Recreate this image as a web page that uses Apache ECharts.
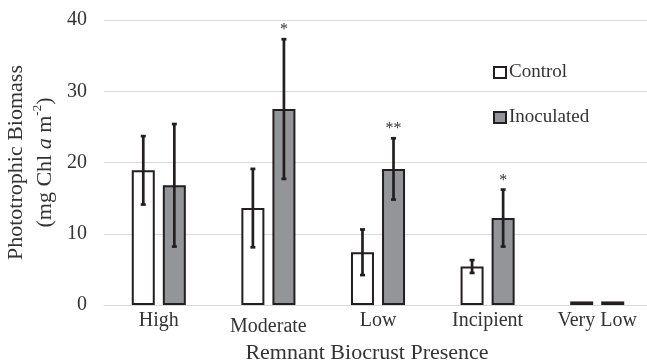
<!DOCTYPE html>
<html>
<head>
<meta charset="utf-8">
<script src="https://cdn.jsdelivr.net/npm/echarts@6/dist/echarts.min.js"></script>
<style>html,body{margin:0;padding:0;background:#fff}#c{width:647px;height:360px}</style>
</head>
<body>
<div id="c"></div>
<script>
const categories = ['High', 'Moderate', 'Low', 'Incipient', 'Very Low'];
const controlMean = [18.9, 13.6, 7.4, 5.4, 0.5];
const controlErr = [4.8, 5.5, 3.2, 0.9, 0];
const inocMean = [16.8, 27.5, 19.1, 12.2, 0.5];
const inocErr = [8.6, 9.8, 4.3, 4.0, 0];
const inocSig = ['', '*', '**', '*', ''];
const yTicks = [0, 10, 20, 30, 40];

const FONT = '"Liberation Serif", "Times New Roman", serif';
const INK = '#231f20';
const BAR_W = 23;
const GAP = 0.35;
const OFFSET = BAR_W * (1 + GAP) / 2;

function errSeries(mean, err, sig, dir) {
  return {
    type: 'custom',
    z: 5,
    silent: true,
    data: mean.map((m, i) => [i, m, err[i]]),
    encode: { x: 0, y: 1 },
    renderItem: function (params, api) {
      const idx = api.value(0);
      const m = api.value(1);
      const e = api.value(2);
      const s = sig[params.dataIndex];
      const x = api.coord([idx, 0])[0] + dir * OFFSET;
      const yT = api.coord([idx, m + e])[1];
      const yB = api.coord([idx, m - e])[1];
      const children = [];
      const st = { stroke: INK, lineWidth: 2.7 };
      if (e > 0) {
        children.push({ type: 'line', shape: { x1: x, y1: yT, x2: x, y2: yB }, style: st });
        children.push({ type: 'line', shape: { x1: x - 2.5, y1: yT, x2: x + 2.5, y2: yT }, style: st });
        children.push({ type: 'line', shape: { x1: x - 2.5, y1: yB, x2: x + 2.5, y2: yB }, style: st });
      }
      if (s) {
        children.push({ type: 'text', style: { text: s, x: x, y: yT - 1, align: 'center', verticalAlign: 'bottom', fill: '#333', font: '16px ' + FONT } });
      }
      return { type: 'group', children: children };
    }
  };
}

const chart = echarts.init(document.getElementById('c'), null, { renderer: 'canvas' });
chart.setOption({
  animation: false,
  backgroundColor: '#fff',
  textStyle: { fontFamily: FONT },
  grid: { left: 104, right: -5, top: 20, bottom: 55, containLabel: false, outerBoundsMode: 'none' },
  legend: {
    orient: 'vertical',
    left: 488,
    top: 58,
    itemGap: 26,
    itemWidth: 12,
    itemHeight: 11,
    icon: 'rect',
    textStyle: { fontFamily: FONT, fontSize: 19, color: '#333', padding: [0, 0, 0, -2] },
    data: [
      { name: 'Control', itemStyle: { color: '#fff', borderColor: INK, borderWidth: 2 } },
      { name: 'Inoculated', itemStyle: { color: '#939598', borderColor: INK, borderWidth: 2 } }
    ]
  },
  xAxis: {
    type: 'category',
    data: categories.map(c => c === 'Moderate' ? { value: c, textStyle: { padding: [6, 0, 0, 0] } } : c),
    axisLine: { lineStyle: { color: '#d9d9d9', width: 1 } },
    axisTick: { show: false },
    axisLabel: { fontFamily: FONT, fontSize: 20, color: '#333', margin: 6 },
    name: 'Remnant Biocrust Presence',
    nameLocation: 'middle',
    nameGap: 33,
    nameTextStyle: { fontFamily: FONT, fontSize: 22, color: '#333', padding: [0, 22, 0, 0] }
  },
  yAxis: {
    type: 'value',
    min: yTicks[0],
    max: yTicks[yTicks.length - 1],
    interval: yTicks[1] - yTicks[0],
    axisLine: { show: false },
    axisTick: { show: false },
    splitLine: { lineStyle: { color: '#d9d9d9', width: 1 } },
    axisLabel: { fontFamily: FONT, fontSize: 20, color: '#333', margin: 17 },
    name: '{t|Phototrophic Biomass}\n{t|(mg Chl }{i|a}{t| m}{s|-2}{t|)}',
    nameLocation: 'middle',
    nameRotate: 90,
    nameGap: 38,
    nameTextStyle: {
      color: '#333',
      rich: {
        t: { fontFamily: FONT, fontSize: 22, color: '#333', lineHeight: 29 },
        i: { fontFamily: FONT, fontSize: 22, fontStyle: 'italic', color: '#333', lineHeight: 29 },
        s: { fontFamily: FONT, fontSize: 13, color: '#333', lineHeight: 29, verticalAlign: 'top', padding: [0, 0, 10, 0] }
      }
    }
  },
  series: [
    {
      name: 'Control', type: 'bar', data: controlMean, barWidth: BAR_W, barGap: (GAP * 100) + '%',
      itemStyle: { color: '#fff', borderColor: INK, borderWidth: 2 }
    },
    {
      name: 'Inoculated', type: 'bar', data: inocMean, barWidth: BAR_W, barGap: (GAP * 100) + '%',
      itemStyle: { color: '#939598', borderColor: INK, borderWidth: 2 }
    },
    errSeries(controlMean, controlErr, ['', '', '', '', ''], -1),
    errSeries(inocMean, inocErr, inocSig, 1)
  ]
});
</script>
</body>
</html>
